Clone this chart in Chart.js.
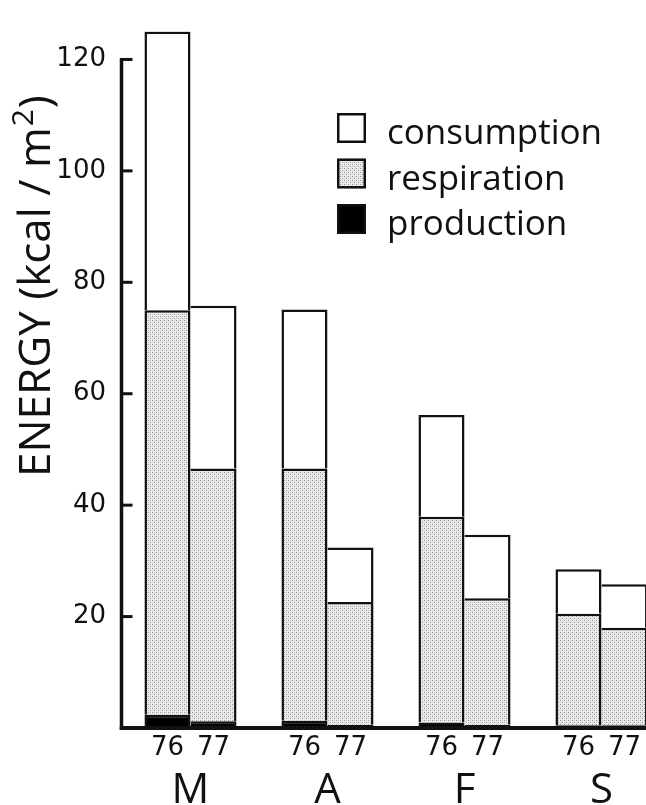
<!DOCTYPE html>
<html>
<head>
<meta charset="utf-8">
<script src="https://cdn.jsdelivr.net/npm/chart.js@4.4.1/dist/chart.umd.min.js"></script>
<style>
  html, body { margin: 0; padding: 0; background: #fff; overflow: hidden; }
  #wrap { width: 680px; height: 805px; }
</style>
</head>
<body>
<div id="wrap"><canvas id="c" width="680" height="805"></canvas></div>
<script>
// Energy budget per month, kcal/m², for 1976 and 1977
const months = ['M', 'A', 'F', 'S'];
const years = ['76', '77'];
const consumption76 = [125.0, 75.1, 56.2, 28.5];
const consumption77 = [75.8, 32.4, 34.7, 25.8];
const respiration76 = [72.6, 45.3, 36.9, 20.0];
const respiration77 = [45.4, 22.0, 22.7, 17.5];
const production76 = [2.4, 1.3, 1.0, 0.5];
const production77 = [1.2, 0.6, 0.6, 0.5];
const yTicks = [20, 40, 60, 80, 100, 120];
const seriesNames = ['consumption', 'respiration', 'production'];
const yAxisTitle = 'ENERGY (kcal / m';
const yAxisUnitPower = '2';

const FONT = '"Open Sans", "DejaVu Sans", sans-serif';
const DIGITS = '"DejaVu Sans", "Open Sans", sans-serif';
const INK = '#111';
const EDGE = 2.5;

const canvas = document.getElementById('c');
const ctx = canvas.getContext('2d');

// light gray halftone fill for respiration
function stippleFill() {
  const p = document.createElement('canvas');
  p.width = 4; p.height = 4;
  const g = p.getContext('2d');
  g.fillStyle = '#ebebeb'; g.fillRect(0, 0, 4, 4);
  g.fillStyle = '#949494'; g.fillRect(0, 0, 1, 1); g.fillRect(2, 2, 1, 1);
  g.fillStyle = '#c8c8c8'; g.fillRect(2, 0, 1, 1); g.fillRect(0, 2, 1, 1);
  return ctx.createPattern(p, 'repeat');
}
const respFill = stippleFill();
const fills = { consumption: '#ffffff', respiration: respFill, production: '#000000' };

// the white part tops each bar up to total consumption
const remainder = (cons, resp, prod) => cons.map((c, i) => +(c - resp[i] - prod[i]).toFixed(2));

// each segment draws its top and sides; the second year's bars share the first year's right edge
function yearStack(year, prod, resp, cons, leftEdge) {
  const bw = { top: EDGE, right: EDGE, bottom: 0, left: leftEdge ? EDGE : 0 };
  return [
    { label: 'production', stack: year, data: prod, backgroundColor: fills.production, borderWidth: bw },
    { label: 'respiration', stack: year, data: resp, backgroundColor: fills.respiration, borderWidth: bw },
    { label: 'consumption', stack: year, data: remainder(cons, resp, prod), backgroundColor: fills.consumption, borderWidth: bw }
  ];
}

const datasets = [
  ...yearStack(years[0], production76, respiration76, consumption76, true),
  ...yearStack(years[1], production77, respiration77, consumption77, false)
];

const decor = {
  id: 'decor',
  afterDatasetsDraw(chart) {
    const { ctx, chartArea, scales: { x, y } } = chart;
    const ax = chartArea.left - 0.5;
    const y0 = y.getPixelForValue(0);
    ctx.save();
    ctx.strokeStyle = INK;
    ctx.fillStyle = INK;
    ctx.lineCap = 'butt';

    // vertical axis with inward ticks
    ctx.lineWidth = 3.5;
    ctx.beginPath();
    ctx.moveTo(ax, y.getPixelForValue(yTicks[yTicks.length - 1]) - 1.5);
    ctx.lineTo(ax, y0 + 2);
    ctx.stroke();
    ctx.lineWidth = 3;
    yTicks.forEach(v => {
      const py = y.getPixelForValue(v);
      ctx.beginPath();
      ctx.moveTo(ax, py);
      ctx.lineTo(ax + 11, py);
      ctx.stroke();
    });

    // baseline
    ctx.lineWidth = 4;
    ctx.beginPath();
    ctx.moveTo(ax - 1.75, y0);
    ctx.lineTo(chart.width, y0);
    ctx.stroke();

    // year under each bar
    ctx.font = '26px ' + DIGITS;
    ctx.textAlign = 'center';
    ctx.textBaseline = 'alphabetic';
    years.forEach((yr, k) => {
      const meta = chart.getDatasetMeta(k * 3);
      meta.data.forEach(bar => ctx.fillText(yr, bar.x, y0 + 27));
    });

    // rotated axis title
    ctx.save();
    ctx.translate(50, 477);
    ctx.rotate(-Math.PI / 2);
    ctx.textAlign = 'left';
    ctx.font = '44px ' + FONT;
    ctx.fillText(yAxisTitle, 0, 0);
    let w = ctx.measureText(yAxisTitle).width;
    ctx.font = '30px ' + FONT;
    ctx.fillText(yAxisUnitPower, w + 1, -17);
    w += ctx.measureText(yAxisUnitPower).width + 2;
    ctx.font = '44px ' + FONT;
    ctx.fillText(')', w, 0);
    ctx.restore();

    // key
    const kx = 337, ky = 113, step = 45.5, bw = 29, bh = 30;
    ctx.font = '35px ' + FONT;
    ctx.textAlign = 'left';
    seriesNames.forEach((name, i) => {
      const top = ky + i * step;
      ctx.fillStyle = fills[name];
      ctx.fillRect(kx, top, bw, bh);
      ctx.lineWidth = 2.5;
      ctx.strokeStyle = INK;
      ctx.strokeRect(kx + 1.25, top + 1.25, bw - 2.5, bh - 2.5);
      ctx.fillStyle = INK;
      ctx.fillText(name, kx + 50, top + 31);
    });
    ctx.restore();
  }
};

new Chart(ctx, {
  type: 'bar',
  data: { labels: months, datasets },
  options: {
    responsive: false,
    animation: false,
    layout: { padding: { top: 15, right: 10, left: 0, bottom: 0 } },
    plugins: { legend: { display: false }, tooltip: { enabled: false } },
    datasets: {
      bar: { categoryPercentage: 0.672, barPercentage: 1.0, borderColor: INK, borderSkipped: false }
    },
    scales: {
      x: {
        stacked: true,
        grid: { display: false, drawTicks: false },
        border: { display: false },
        ticks: { font: { family: FONT, size: 42 }, color: INK, padding: 38 },
        afterFit(s) { s.height = 77; }
      },
      y: {
        stacked: true,
        min: 0,
        max: 125,
        grid: { display: false, drawTicks: false },
        border: { display: false },
        ticks: {
          stepSize: 20,
          includeBounds: false,
          font: { family: DIGITS, size: 26 },
          color: INK,
          padding: 16,
          callback: v => (yTicks.includes(v) ? String(v) : '')
        },
        afterFit(s) { s.width = 122; }
      }
    }
  },
  plugins: [decor]
});
</script>
</body>
</html>
